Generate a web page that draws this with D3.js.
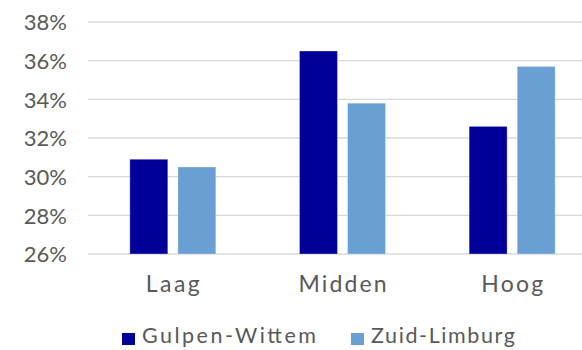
<!DOCTYPE html>
<html>
<head>
<meta charset="utf-8">
<script src="https://cdn.jsdelivr.net/npm/d3@7"></script>
<style>
  html, body { margin: 0; padding: 0; background: #fff; }
  svg text { font-family: "Century Gothic", "Lato", "DejaVu Sans", sans-serif; fill: #595959; }
</style>
</head>
<body>
<svg id="chart" width="582" height="350"></svg>
<script>
// Share per category, two regions
const categories = ["Laag", "Midden", "Hoog"];
const seriesNames = ["Gulpen-Wittem", "Zuid-Limburg"];
const gulpenWittem = [30.9, 36.5, 32.6];
const zuidLimburg = [30.5, 33.8, 35.7];
const yTicks = [26, 28, 30, 32, 34, 36, 38];
const colors = ["#000099", "#6A9FD4"];

// widths the wide geometric face would take; used to stretch the fallback face
const categoryWidths = [54, 88, 62];
const legendWidths = [174, 144];

const svg = d3.select("#chart");
const W = 582, H = 350;
const plot = { left: 88, right: 597, top: 22, bottom: 254 };

const x = d3.scaleBand().domain(categories).range([plot.left, plot.right]);
const x1 = d3.scaleBand().domain(seriesNames).range([0, 86]).paddingInner(0.21);
const y = d3.scaleLinear().domain([26, 38]).range([plot.bottom, plot.top]);

// gridlines
svg.append("g")
  .selectAll("line").data(yTicks).join("line")
  .attr("x1", plot.left).attr("x2", W)
  .attr("y1", d => y(d)).attr("y2", d => y(d))
  .attr("stroke", "#d9d9d9").attr("stroke-width", 1.3);

// y axis labels
const yAxis = d3.axisLeft(y).tickValues(yTicks).tickFormat(d => d + "%").tickSize(0).tickPadding(0);
const ya = svg.append("g").attr("transform", "translate(67,0)").call(yAxis);
ya.select(".domain").remove();
ya.selectAll("text").attr("font-size", 22).attr("dy", "0.36em").style("font-family", null);

// bars
const rows = categories.map((c, i) => ({ cat: c, vals: [gulpenWittem[i], zuidLimburg[i]] }));
const groups = svg.append("g").selectAll("g").data(rows).join("g")
  .attr("transform", d => `translate(${x(d.cat) + x.bandwidth() / 2 - 43},0)`);
groups.selectAll("rect").data(d => d.vals.map((v, j) => ({ s: seriesNames[j], v, j })))
  .join("rect")
  .attr("x", d => x1(d.s))
  .attr("width", x1.bandwidth())
  .attr("y", d => y(d.v))
  .attr("height", d => y(26) - y(d.v))
  .attr("fill", d => colors[d.j])
  .attr("stroke", "rgba(255,255,255,0.3)")
  .attr("stroke-width", 1);

// category labels
const xAxis = d3.axisBottom(x).tickSize(0).tickPadding(0);
const xa = svg.append("g").attr("transform", `translate(0,${plot.bottom + 38})`).call(xAxis);
xa.select(".domain").remove();
xa.selectAll("text")
  .attr("font-size", 23).attr("dy", 0).style("font-family", null)
  .attr("textLength", (d, i) => categoryWidths[i])
  .attr("lengthAdjust", "spacing");

// legend
const legend = svg.append("g").attr("transform", "translate(0,343)");
const legendX = [122, 351];
seriesNames.forEach((s, i) => {
  legend.append("rect").attr("x", legendX[i]).attr("y", -10).attr("width", 13).attr("height", 12).attr("fill", colors[i]);
  legend.append("text").attr("x", legendX[i] + 20).attr("y", 0)
    .attr("font-size", 21.5)
    .attr("textLength", legendWidths[i])
    .attr("lengthAdjust", "spacing")
    .text(s);
});
</script>
</body>
</html>
